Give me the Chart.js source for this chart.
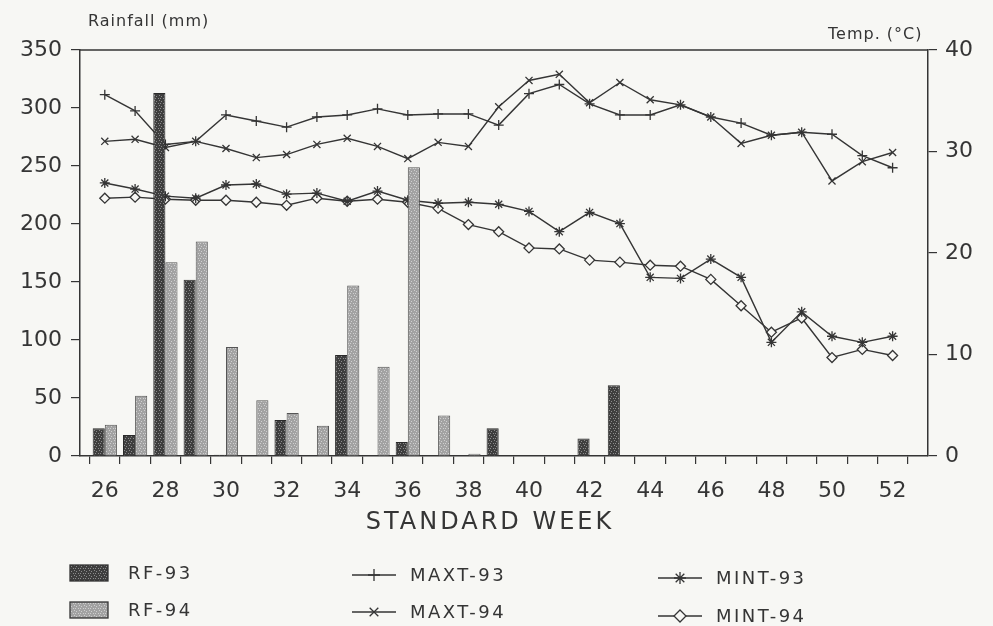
<!DOCTYPE html>
<html>
<head>
<meta charset="utf-8">
<script src="https://cdn.jsdelivr.net/npm/chart.js@4.4.1/dist/chart.umd.min.js"></script>
<style>
  html, body { margin: 0; padding: 0; background: #f7f7f4; }
  #wrap { width: 993px; height: 626px; }
</style>
</head>
<body>
<div id="wrap"><canvas id="rainChart" width="993" height="626"></canvas></div>
<script>
// Standard weeks 26..52
const weeks = [26, 27, 28, 29, 30, 31, 32, 33, 34, 35, 36, 37, 38, 39, 40, 41, 42, 43, 44, 45, 46, 47, 48, 49, 50, 51, 52];

// Rainfall (mm)
const rf93 = [24, 18, 313, 152, 1, 0, 31, 0, 87, 0, 12, 0, 0, 24, 0, 0, 15, 61, 0, 0, 0, 0, 0, 0, 0, 0, 0];
const rf94 = [27, 52, 167, 185, 94, 48, 37, 26, 147, 77, 249, 35, 2, 0, 0, 0, 0, 0, 0, 0, 0, 0, 0, 0, 0, 0, 0];

// Temperatures (°C)
const maxt93 = [35.6, 34.0, 30.7, 31.0, 33.6, 33.0, 32.4, 33.4, 33.6, 34.2, 33.6, 33.7, 33.7, 32.6, 35.7, 36.6, 34.7, 33.6, 33.6, 34.6, 33.4, 32.8, 31.6, 31.9, 31.7, 29.6, 28.4];
const maxt94 = [31.0, 31.2, 30.4, 31.0, 30.3, 29.4, 29.7, 30.7, 31.3, 30.5, 29.3, 30.9, 30.5, 34.4, 37.0, 37.6, 34.8, 36.8, 35.1, 34.6, 33.4, 30.8, 31.6, 31.9, 27.1, 29.0, 29.9];
const mint93 = [26.9, 26.3, 25.6, 25.4, 26.7, 26.8, 25.8, 25.9, 25.1, 26.1, 25.2, 24.9, 25.0, 24.8, 24.1, 22.1, 24.0, 22.9, 17.6, 17.5, 19.4, 17.6, 11.2, 14.2, 11.8, 11.2, 11.8];
const mint94 = [25.4, 25.5, 25.3, 25.2, 25.2, 25.0, 24.7, 25.4, 25.1, 25.3, 25.0, 24.4, 22.8, 22.1, 20.5, 20.4, 19.3, 19.1, 18.8, 18.7, 17.4, 14.8, 12.2, 13.6, 9.7, 10.5, 9.9];

const rainTitle = 'Rainfall (mm)';
const tempTitle = 'Temp. (°C)';
const weekTitle = 'STANDARD WEEK';

const ink = '#353535';
const paper = '#f7f7f4';

const canvas = document.getElementById('rainChart');
const ctx = canvas.getContext('2d');

// speckled fill like the printed bars
function speckle(base, dot) {
    const c = document.createElement('canvas');
    c.width = 5; c.height = 5;
    const g = c.getContext('2d');
    g.fillStyle = base; g.fillRect(0, 0, 5, 5);
    g.fillStyle = dot;
    g.fillRect(1, 1, 1, 1); g.fillRect(3, 3, 1, 1); g.fillRect(4, 0, 1, 1); g.fillRect(0, 3, 1, 1);
    return ctx.createPattern(c, 'repeat');
}
const fill93 = speckle('#3e3e3e', '#8c8c8c');
const fill94 = speckle('#a2a2a2', '#cfcfcf');

function lineSet(label, data, style, bg) {
    return {
        type: 'line', label: label, data: data, yAxisID: 'yT', order: 1,
        borderColor: ink, borderWidth: 1.4, tension: 0, fill: false,
        pointStyle: style, pointRadius: 5, pointBorderWidth: 1.3,
        pointBorderColor: ink, pointBackgroundColor: bg || ink
    };
}

// legend placement (two rows, three columns under the chart)
const legendSpots = {
    'RF-93':   { x: 70,  y: 573 },
    'RF-94':   { x: 70,  y: 610 },
    'MAXT-93': { x: 352, y: 575 },
    'MAXT-94': { x: 352, y: 612 },
    'MINT-93': { x: 658, y: 578 },
    'MINT-94': { x: 658, y: 616 }
};

function marker(c, style, x, y, r) {
    c.beginPath();
    if (style === 'cross' || style === 'star') {
        c.moveTo(x, y - r); c.lineTo(x, y + r);
        c.moveTo(x - r, y); c.lineTo(x + r, y);
    }
    if (style === 'crossRot' || style === 'star') {
        const d = r * 0.72;
        c.moveTo(x - d, y - d); c.lineTo(x + d, y + d);
        c.moveTo(x - d, y + d); c.lineTo(x + d, y - d);
    }
    if (style === 'rectRot') {
        c.moveTo(x, y - r); c.lineTo(x + r, y); c.lineTo(x, y + r); c.lineTo(x - r, y); c.closePath();
        c.fillStyle = paper; c.fill();
    }
    c.stroke();
}

const decor = {
    id: 'decor',
    afterDraw(chart) {
        const c = chart.ctx;
        const a = chart.chartArea;
        c.save();
        c.strokeStyle = ink; c.lineWidth = 1.5;
        c.beginPath(); c.moveTo(a.left, a.top); c.lineTo(a.right, a.top); c.stroke();

        c.fillStyle = ink;
        c.textBaseline = 'middle';
        c.textAlign = 'left';
        c.font = '16px "DejaVu Sans"';
        c.letterSpacing = '1px';
        c.fillText(rainTitle, 88, 22);
        c.fillText(tempTitle, 828, 35);

        c.font = '24px "DejaVu Sans"';
        c.letterSpacing = '3px';
        c.textAlign = 'center';
        c.fillText(weekTitle, 490, 523);

        c.textAlign = 'left';
        c.font = '18px "DejaVu Sans"';
        c.letterSpacing = '2.5px';
        chart.data.datasets.forEach(ds => {
            const p = legendSpots[ds.label];
            if (!p) return;
            c.lineWidth = 1.3;
            c.strokeStyle = ink;
            if (ds.type === 'line') {
                c.beginPath(); c.moveTo(p.x, p.y); c.lineTo(p.x + 44, p.y); c.stroke();
                marker(c, ds.pointStyle, p.x + 22, p.y, 6);
                c.fillStyle = ink;
                c.fillText(ds.label, p.x + 58, p.y + 1);
            } else {
                c.fillStyle = ds.backgroundColor;
                c.fillRect(p.x, p.y - 8, 38, 16);
                c.strokeRect(p.x, p.y - 8, 38, 16);
                c.fillStyle = ink;
                c.fillText(ds.label, p.x + 58, p.y + 1);
            }
        });
        c.restore();
    }
};

new Chart(ctx, {
    type: 'bar',
    data: {
        labels: weeks,
        datasets: [
            { label: 'RF-93', data: rf93, yAxisID: 'y', order: 0, backgroundColor: fill93,
              borderColor: '#2a2a2a', borderWidth: 1, categoryPercentage: 0.8, barPercentage: 1.0 },
            { label: 'RF-94', data: rf94, yAxisID: 'y', order: 0, backgroundColor: fill94,
              borderColor: '#555', borderWidth: 1, categoryPercentage: 0.8, barPercentage: 1.0 },
            lineSet('MAXT-93', maxt93, 'cross'),
            lineSet('MAXT-94', maxt94, 'crossRot'),
            lineSet('MINT-93', mint93, 'star'),
            lineSet('MINT-94', mint94, 'rectRot', paper)
        ]
    },
    options: {
        responsive: false,
        animation: false,
        layout: { padding: { top: 50 } },
        plugins: { legend: { display: false }, tooltip: { enabled: false } },
        scales: {
            x: {
                type: 'linear', position: 'bottom', min: 25.7, max: 52.65,
                afterBuildTicks: s => { s.ticks = weeks.map(w => ({ value: w })); },
                afterFit: s => { s.height = 170; },
                grid: { drawOnChartArea: false, tickLength: 8, color: ink, lineWidth: 1.2 },
                border: { color: ink, width: 1.5 },
                ticks: {
                    autoSkip: false, maxRotation: 0, padding: 14, color: ink,
                    font: { family: 'DejaVu Sans', size: 22 },
                    callback: v => (v % 2 === 0 ? String(v) : '')
                }
            },
            y: {
                position: 'left', min: 0, max: 350,
                afterFit: s => { s.width = 80; },
                grid: { drawOnChartArea: false, tickLength: 9, color: ink, lineWidth: 1.2 },
                border: { color: ink, width: 1.5 },
                ticks: { stepSize: 50, padding: 9, color: ink, font: { family: 'DejaVu Sans', size: 22 } }
            },
            yT: {
                position: 'right', min: 0, max: 40,
                afterFit: s => { s.width = 65; },
                grid: { drawOnChartArea: false, tickLength: 9, color: ink, lineWidth: 1.2 },
                border: { color: ink, width: 1.5 },
                ticks: { stepSize: 10, padding: 8, color: ink, font: { family: 'DejaVu Sans', size: 22 } }
            }
        }
    },
    plugins: [decor]
});
</script>
</body>
</html>
